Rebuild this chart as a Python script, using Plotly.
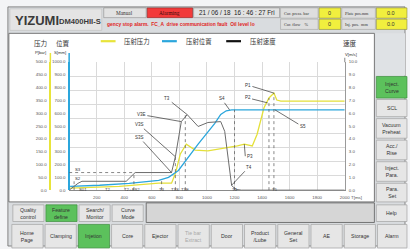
import plotly.graph_objects as go

W, H = 410, 249

# ---------------- data ----------------
time_pressure = [7, 364, 650, 743, 771, 807, 850, 914, 1007, 1150, 1221, 1271, 1329, 1364, 1414, 1450, 1486, 1507, 1536, 2000]
pressure_bar = [8, 15, 27, 27, 65, 141, 179, 156, 153, 164, 172, 179, 172, 218, 321, 359, 378, 351, 347, 347]

time_position = [7, 221, 436, 579, 650, 721, 771, 793, 936, 1057, 1100, 1140, 1180, 2000]
position_mm = [30, 38, 53, 69, 76, 100, 135, 153, 359, 520, 590, 618, 626, 626]

time_velocity = [0, 64, 93, 414, 479, 743, 771, 814, 857, 936, 1007, 1100, 1129, 1164, 1179, 1192, 1215, 1250, 2000]
velocity_ms = [0, 0.53, 0.69, 0.69, 1.37, 1.37, 2.6, 5.34, 5.88, 4.96, 5.27, 5.34, 4.58, 1.3, 0.38, 0.22, 0.05, 0, 0]

x_ticks = [200, 400, 600, 800, 1000, 1200, 1400, 1600, 1800, 2000]
x_tick_labels = [str(v) for v in x_ticks]
p_ticks = list(range(0, 501, 50))
p_tick_labels = [f"{v:.1f}" for v in p_ticks]
s_ticks = list(range(0, 1001, 100))
s_tick_labels = [f"{v:.1f}" for v in s_ticks]
v_ticks = list(range(0, 11))
v_tick_labels = [f"{v:.1f}" for v in v_ticks]

event_names = ["S01", "T2", "T2+ΔS2", "T3", "T3S", "T3E", "T4", "T5"]
event_times = [100, 279, 457, 671, 771, 843, 1200, 1493]

legend_names = ["压射压力", "压射位置", "压射速度"]
bottom_row = ["Home<br>Page", "Clamping", "Injetion", "Core", "Ejector", "Tie bar<br>Extract",
              "Door", "Product<br>/Lube", "General<br>Set", "AE", "Storage", "Alarm"]
second_row = ["Quality<br>control", "Feature<br>define", "Search/<br>Monitor", "Curve<br>Mode"]
side_buttons = ["Inject.<br>Curve", "SCL", "Vacuum<br>Preheat", "Acc./<br>Rise", "Inject.<br>Para.", "Para.<br>Set", "Help"]

# ---------------- colours ----------------
YEL = "#e4e03a"
BLU = "#2ba6dc"
GRY = "#6c6c6c"
GREEN = "#5cc15c"
BTN = "#e6e6e6"
BTN_LINE = "#a4a4a4"
TXT = "#333333"
FONT = "Liberation Sans"


def fx(x):
    return x / W


def fy(y):
    return 1 - y / H


shapes = []
annots = []


def rect(x0, y0, x1, y1, fill, line="rgba(0,0,0,0)", lw=0.8, layer="below"):
    shapes.append(dict(type="rect", xref="paper", yref="paper", x0=fx(x0), x1=fx(x1),
                       y0=fy(y1), y1=fy(y0), fillcolor=fill, line=dict(color=line, width=lw),
                       layer=layer))


def pline(x0, y0, x1, y1, color, w=1, dash="solid"):
    shapes.append(dict(type="line", xref="paper", yref="paper", x0=fx(x0), x1=fx(x1),
                       y0=fy(y0), y1=fy(y1), line=dict(color=color, width=w, dash=dash), layer="above"))


def text(x, y, s, size=5, color=TXT, anchor="center", family=FONT, bold=False):
    annots.append(dict(xref="paper", yref="paper", x=fx(x), y=fy(y), text=s, showarrow=False,
                       xanchor=anchor, yanchor="middle",
                       font=dict(size=size, color=color, family=family,
                                 weight="bold" if bold else "normal")))


def button(x0, y0, x1, y1, label, green=False, tcolor=TXT, size=5.2):
    rect(x0, y0, x1, y1, GREEN if green else BTN, "#3f8f3f" if green else BTN_LINE, 0.7)
    text((x0 + x1) / 2, (y0 + y1) / 2, label, size=size, color=tcolor)


# ---------------- screen frame ----------------
rect(0, 0, W, H, "#f3f4f6")
rect(8, 5, W, H, "#d9dcdf", "#6a6a6a", 0.8)
# header
rect(10, 7, 103, 29, "#e4e4e4", "#bdbdbd", 0.6)
text(13, 19, "YIZUMI", size=13, color="#3a3a3a", anchor="left", bold=True)
text(58, 19.5, "DM400HII-S", size=7.6, color="#3a3a3a", anchor="left", bold=True)
rect(105, 6, 148, 16, "#e2e2e2", "#8a8a8a", 0.6)
text(126.5, 11, "Manual", size=5.3, family="Liberation Serif")
rect(149, 6, 195, 16, "#f23a3a", "#8a2020", 0.6)
text(172, 11, "Alarming", size=5.3, family="Liberation Serif", color="#3a0a0a")
rect(196, 6, 283, 16, "#e2e2e2", "#8a8a8a", 0.6)
text(239.5, 11, "21 / 06 / 18  16 : 46 : 27 Fri", size=6.3, color="#222")
rect(105, 17, 283, 28, "#d9dcdf")
text(106, 22.5, "gency stop alarm.  FC_A  drive communication fault  Oil level lo",
     size=4.9, color="#e02424", anchor="left", bold=True)
for row, (l1, l2) in enumerate([("Cur. press. bar", "Plate pos.mm"), ("Cur. flow    %", "Inj. pos.  mm")]):
    y0 = 6 + row * 11.5
    y1 = y0 + 10.5
    rect(284, y0, 322, y1, "#dedede", "#9a9a9a", 0.5)
    text(285, (y0 + y1) / 2, l1, size=4.3, anchor="left", family="Liberation Serif")
    rect(323, y0, 345, y1, "#f1ef3e", "#8a8a40", 0.6)
    text(334, (y0 + y1) / 2, "0", size=5.5)
    rect(346, y0, 380, y1, "#dedede", "#9a9a9a", 0.5)
    text(347, (y0 + y1) / 2, l2, size=4.3, anchor="left", family="Liberation Serif")
    rect(381, y0, 412, y1, "#f1ef3e", "#8a8a40", 0.6)
    text(396, (y0 + y1) / 2, "0.0", size=5.5)

# chart panel
rect(9, 32, 379, 204, "#ffffff", "#5a5a5a", 0.8)
rect(148, 205, 379, 225, "#d6d6d6", "#5a5a5a", 0.8)
rect(380, 32, 410, 75, "#dfe2e5")

# legend (manual)
leg_colors = ["#e8e43a", BLU, "#111111"]
leg_x = [102, 164, 229]
for name, c, lx in zip(legend_names, leg_colors, leg_x):
    pline(lx, 40, lx + 15, 40, c, 2.2)
    text(lx + 22, 40, name, size=6.4, color="#333", anchor="left", family="Noto Sans CJK SC")

text(41.5, 42, "压力", size=6.6, family="Noto Sans CJK SC")
text(64, 42, "位置", size=6.6, family="Noto Sans CJK SC")
text(354, 42, "速度", size=6.6, family="Noto Sans CJK SC")
text(41.5, 52, "P[bar]", size=4.2)
text(61, 52, "S[mm]", size=4.2)
text(355.5, 54, "V[m/s]", size=4.2)
text(353, 200, "T[ms]", size=4.4, anchor="left", color="#555")
# axis line extensions above the top of the scale
pline(51, 52, 51, 61.5, "#e8e43a", 1.5)
pline(70, 52, 70, 61.5, BLU, 1.5)
pline(349, 57, 349, 61.5, "#9a9a9a", 1.2)

# buttons
for i, lab in enumerate(second_row):
    x0 = 13 + i * 33.5
    button(x0, 207, x0 + 31.5, 224, lab, green=(lab.startswith("Feature")))
for i, lab in enumerate(bottom_row):
    x0 = 12 + i * 33.65
    x1 = x0 + 31.6 if i < 11 else 412
    col = "#a8a8a8" if lab.startswith("Tie") else TXT
    button(x0, 227, x1, 251, lab, green=(lab == "Injetion"), tcolor=col)
side_y = [(76, 98), (99.5, 117), (119, 139), (141, 161), (163, 183), (185, 204), (207, 224)]
for lab, (y0, y1) in zip(side_buttons, side_y):
    button(381, y0, 412, y1, lab, green=(lab.startswith("Inject.<br>Curve")))

# ---------------- traces ----------------
fig = go.Figure()
fig.add_trace(go.Scatter(x=time_pressure, y=pressure_bar, yaxis="y", mode="lines",
                         line=dict(color=YEL, width=1.3), showlegend=False))
fig.add_trace(go.Scatter(x=time_position, y=position_mm, yaxis="y2", mode="lines",
                         line=dict(color=BLU, width=1.3), showlegend=False))
fig.add_trace(go.Scatter(x=time_velocity, y=velocity_ms, yaxis="y3", mode="lines",
                         line=dict(color=GRY, width=1.0), showlegend=False))
fig.add_trace(go.Scatter(x=[None], y=[None], yaxis="y4", showlegend=False))

# dotted marker lines (data referenced)
def vdot(t, top, ref):
    shapes.append(dict(type="line", xref="x", yref=ref, x0=t, x1=t, y0=0, y1=top,
                       line=dict(color="#555", width=0.7, dash="dot"), layer="above"))


vdot(36, 0.69, "y3")
vdot(470, 1.37, "y3")
vdot(671, 80, "y2")
vdot(771, 2.6, "y3")
vdot(843, 5.88, "y3")
vdot(1200, 626, "y2")
vdot(1450, 359, "y")
vdot(1486, 378, "y")
shapes.append(dict(type="line", xref="x", yref="y3", x0=0, x1=470, y0=1.37, y1=1.37,
                   line=dict(color="#555", width=0.7, dash="dot"), layer="above"))

# event labels under axis
for nm, t in zip(event_names, event_times):
    annots.append(dict(xref="x", yref="paper", x=t, y=fy(195.5), text=nm, showarrow=False,
                       font=dict(size=4.3, color="#444", family=FONT)))
text(74, 170.5, "S3", size=4.3, anchor="left")
text(74, 180.5, "S2", size=4.3, anchor="left")

# leader-line labels
def leader(t, v, ref, ax, ay, label, xanchor="center"):
    annots.append(dict(xref="x", yref=ref, x=t, y=v, ax=ax, ay=ay, text=label, showarrow=True,
                       arrowhead=0, arrowwidth=0.7, arrowcolor="#333", xanchor=xanchor,
                       font=dict(size=4.5, color="#333", family=FONT)))


leader(814, 5.34, "y3", -40, -7, "V3E")
leader(771, 2.6, "y3", -36, -32, "V3S")
leader(743, 1.37, "y3", -32, -35, "S3S")
leader(857, 5.88, "y3", -20, -16, "T3")
leader(1164, 626, "y2", -8, -11, "S4")
leader(1486, 378, "y", -26, -8, "P1")
leader(1440, 340, "y", -20, -5, "P2")
leader(1271, 179, "y", 1, 12, "P3", xanchor="left")
leader(1179, 0.38, "y3", 17, -18, "T4")
leader(1493, 626, "y2", 28, 17, "S5")

dom_y = [fy(192), fy(61)]
tickfont = dict(size=4.4, color="#555", family=FONT)
fig.update_layout(
    width=W, height=H, margin=dict(l=0, r=0, t=0, b=0),
    paper_bgcolor="#f3f4f6", plot_bgcolor="rgba(0,0,0,0)",
    showlegend=False, hovermode=False,
    xaxis=dict(domain=[fx(70), fx(349)], range=[0, 2000], tickvals=x_ticks, ticktext=x_tick_labels,
               tickfont=tickfont, ticks="", ticklabelstandoff=3, showgrid=True, gridcolor="#dadada",
               gridwidth=0.7, showline=True, linecolor="#8a8a8a", linewidth=1, zeroline=False,
               anchor="y"),
    yaxis=dict(domain=dom_y, range=[0, 500], anchor="free", position=fx(51), tickvals=p_ticks,
               ticktext=p_tick_labels, tickfont=tickfont, ticks="", ticklabelstandoff=2,
               showgrid=False, zeroline=False, showline=True, linecolor="#e8e43a", linewidth=1.5),
    yaxis2=dict(overlaying="y", range=[0, 1000], anchor="free", position=fx(70), side="left",
                tickvals=s_ticks, ticktext=s_tick_labels, tickfont=tickfont, ticks="",
                ticklabelstandoff=2, showgrid=False, zeroline=False, showline=True,
                linecolor=BLU, linewidth=1.5),
    yaxis3=dict(overlaying="y", range=[0, 10], anchor="x", side="right", tickvals=v_ticks,
                ticktext=v_tick_labels, tickfont=tickfont, ticks="", ticklabelstandoff=2,
                showgrid=False, zeroline=False, showline=True, linecolor="#9a9a9a", linewidth=1.2),
    yaxis4=dict(overlaying="y", range=[0, 9], dtick=1, anchor="x", showticklabels=False,
                showgrid=True, gridcolor="#dadada", gridwidth=0.7, zeroline=False, showline=False,
                ticks=""),
    shapes=shapes, annotations=annots,
)

fig.write_html("out.html", config={"displayModeBar": False},
               post_script="document.body.style.margin='0';document.body.style.overflow='hidden';")
